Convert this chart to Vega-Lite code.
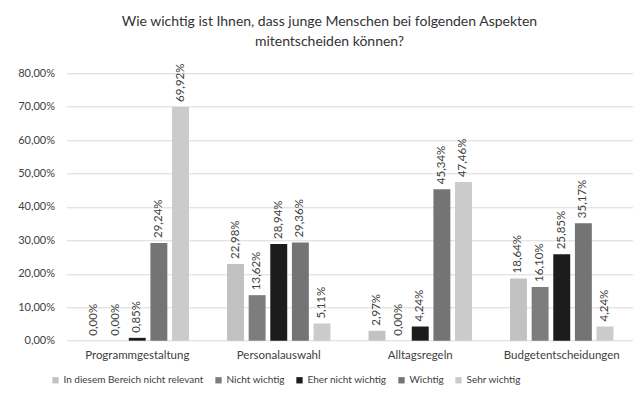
{
  "$schema": "https://vega.github.io/schema/vega-lite/v6.json",
  "autosize": "none",
  "width": 566,
  "height": 267.4,
  "padding": {"left": 66.5, "top": 73.3, "right": 0, "bottom": 53},
  "background": "white",
  "title": {
    "text": ["Wie wichtig ist Ihnen, dass junge Menschen bei folgenden Aspekten", "mitentscheiden können?"],
    "anchor": "middle",
    "dx": -20,
    "offset": 14,
    "font": "Lato",
    "fontSize": 14,
    "fontWeight": "normal",
    "color": "#333333",
    "lineHeight": 20
  },
  "data": {
    "values": [
      {"Bereich": "Programmgestaltung", "Antwort": "In diesem Bereich nicht relevant", "Anteil": 0.0},
      {"Bereich": "Programmgestaltung", "Antwort": "Nicht wichtig", "Anteil": 0.0},
      {"Bereich": "Programmgestaltung", "Antwort": "Eher nicht wichtig", "Anteil": 0.0085},
      {"Bereich": "Programmgestaltung", "Antwort": "Wichtig", "Anteil": 0.2924},
      {"Bereich": "Programmgestaltung", "Antwort": "Sehr wichtig", "Anteil": 0.6992},
      {"Bereich": "Personalauswahl", "Antwort": "In diesem Bereich nicht relevant", "Anteil": 0.2298},
      {"Bereich": "Personalauswahl", "Antwort": "Nicht wichtig", "Anteil": 0.1362},
      {"Bereich": "Personalauswahl", "Antwort": "Eher nicht wichtig", "Anteil": 0.2894},
      {"Bereich": "Personalauswahl", "Antwort": "Wichtig", "Anteil": 0.2936},
      {"Bereich": "Personalauswahl", "Antwort": "Sehr wichtig", "Anteil": 0.0511},
      {"Bereich": "Alltagsregeln", "Antwort": "In diesem Bereich nicht relevant", "Anteil": 0.0297},
      {"Bereich": "Alltagsregeln", "Antwort": "Nicht wichtig", "Anteil": 0.0},
      {"Bereich": "Alltagsregeln", "Antwort": "Eher nicht wichtig", "Anteil": 0.0424},
      {"Bereich": "Alltagsregeln", "Antwort": "Wichtig", "Anteil": 0.4534},
      {"Bereich": "Alltagsregeln", "Antwort": "Sehr wichtig", "Anteil": 0.4746},
      {"Bereich": "Budgetentscheidungen", "Antwort": "In diesem Bereich nicht relevant", "Anteil": 0.1864},
      {"Bereich": "Budgetentscheidungen", "Antwort": "Nicht wichtig", "Anteil": 0.1610},
      {"Bereich": "Budgetentscheidungen", "Antwort": "Eher nicht wichtig", "Anteil": 0.2585},
      {"Bereich": "Budgetentscheidungen", "Antwort": "Wichtig", "Anteil": 0.3517},
      {"Bereich": "Budgetentscheidungen", "Antwort": "Sehr wichtig", "Anteil": 0.0424}
    ]
  },
  "encoding": {
    "x": {
      "field": "Bereich",
      "type": "nominal",
      "sort": ["Programmgestaltung", "Personalauswahl", "Alltagsregeln", "Budgetentscheidungen"],
      "scale": {"paddingInner": 0, "paddingOuter": 0},
      "axis": {
        "title": null,
        "labelAngle": 0,
        "ticks": false,
        "domain": false,
        "labelPadding": 9,
        "labelFont": "Lato",
        "labelFontSize": 11.5,
        "labelColor": "#404040"
      }
    },
    "xOffset": {
      "field": "Antwort",
      "type": "nominal",
      "sort": ["In diesem Bereich nicht relevant", "Nicht wichtig", "Eher nicht wichtig", "Wichtig", "Sehr wichtig"],
      "scale": {"paddingInner": 0.217, "paddingOuter": 0.88}
    },
    "y": {
      "field": "Anteil",
      "type": "quantitative",
      "scale": {"domain": [0, 0.8], "nice": false},
      "axis": {
        "title": null,
        "format": ".2%",
        "values": [0, 0.1, 0.2, 0.3, 0.4, 0.5, 0.6, 0.7, 0.8],
        "labelOverlap": false,
        "ticks": false,
        "domain": false,
        "labelPadding": 12,
        "labelFont": "Lato",
        "labelFontSize": 11,
        "labelColor": "#404040",
        "gridColor": "#d9d9d9",
        "gridWidth": 1
      }
    }
  },
  "layer": [
    {
      "mark": {"type": "bar", "stroke": null},
      "encoding": {
        "color": {
          "field": "Antwort",
          "type": "nominal",
          "sort": ["In diesem Bereich nicht relevant", "Nicht wichtig", "Eher nicht wichtig", "Wichtig", "Sehr wichtig"],
          "scale": {"range": ["#c2c2c2", "#7d7d7d", "#1c1c1c", "#747474", "#cbcbcb"]},
          "legend": {
            "title": null,
            "orient": "none",
            "direction": "horizontal",
            "legendX": -16,
            "legendY": 302,
            "symbolType": "square",
            "symbolSize": 40,
            "symbolStrokeWidth": 0,
            "labelFont": "Lato",
            "labelFontSize": 10,
            "labelColor": "#404040",
            "labelLimit": 400,
            "labelOffset": 3,
            "columnPadding": 9
          }
        }
      }
    },
    {
      "mark": {
        "type": "text",
        "angle": -90,
        "align": "left",
        "baseline": "middle",
        "dx": 5,
        "font": "Lato",
        "fontSize": 11.5,
        "color": "#404040"
      },
      "encoding": {
        "text": {"field": "Anteil", "type": "quantitative", "format": ".2%"}
      }
    }
  ],
  "config": {
    "locale": {
      "number": {"decimal": ",", "thousands": ".", "grouping": [3], "currency": ["", " €"]}
    },
    "view": {"stroke": null}
  }
}
